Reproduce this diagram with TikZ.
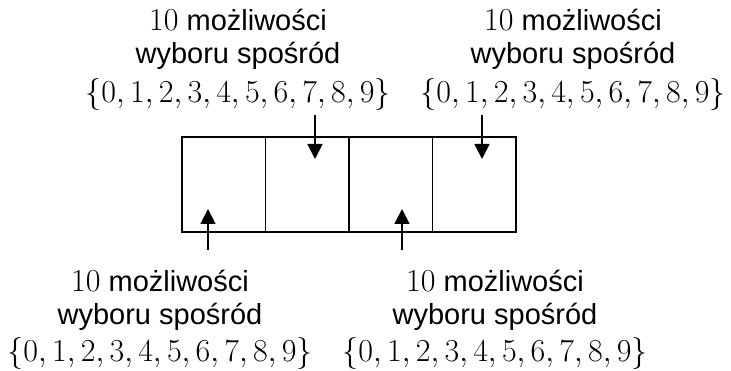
\documentclass[tikz,border=0pt]{standalone}
\usepackage{fix-cm}
\usepackage[no-math]{fontspec}
\setmainfont{Liberation Sans}
\usetikzlibrary{arrows.meta,positioning}

\newcommand\setsize{\fontsize{32}{36}\selectfont}

\begin{document}
\begin{tikzpicture}[
  x=1pt, y=-1pt,
  font=\fontsize{29}{33}\selectfont,
  >={Triangle[length=15pt,width=15pt]},
  cell/.style={draw, line width=1.8pt, minimum width=83.5pt, minimum height=95pt, inner sep=0pt, outer sep=0pt},
  choice/.style={align=center, inner sep=0pt},
  arrow/.style={->, line width=1.8pt}
]
\useasboundingbox (0,0) rectangle (731,371);

% Cells
\node[cell] (c1) at (223.75,184.5) {};
\node[cell, right=0pt of c1] (c2) {};
\node[cell, right=0pt of c2] (c3) {};
\node[cell, right=0pt of c3] (c4) {};

% Labels above
\node[choice, anchor=north] (t1) at (238,9) {{\setsize$10$} możliwości\\wyboru spośród\\[6pt]{\setsize$\{0, 1, 2, 3, 4, 5, 6, 7, 8, 9\}$}};
\node[choice, anchor=north] (t2) at (573,9) {{\setsize$10$} możliwości\\wyboru spośród\\[6pt]{\setsize$\{0, 1, 2, 3, 4, 5, 6, 7, 8, 9\}$}};

% Labels below
\node[choice, anchor=south] (b1) at (160,370) {{\setsize$10$} możliwości\\wyboru spośród\\[4pt]{\setsize$\{0, 1, 2, 3, 4, 5, 6, 7, 8, 9\}$}};
\node[choice, anchor=south] (b2) at (495,370) {{\setsize$10$} możliwości\\wyboru spośród\\[4pt]{\setsize$\{0, 1, 2, 3, 4, 5, 6, 7, 8, 9\}$}};

% Arrow tips
\coordinate (p1) at (208,209);
\coordinate (p2) at (315,159);
\coordinate (p3) at (402,209);
\coordinate (p4) at (482,159);

\draw[arrow, shorten <=4pt] (t1.south -| p2) -- (p2);
\draw[arrow, shorten <=4pt] (t2.south -| p4) -- (p4);
\draw[arrow, shorten <=20pt] (b1.north -| p1) -- (p1);
\draw[arrow, shorten <=20pt] (b2.north -| p3) -- (p3);

\end{tikzpicture}
\end{document}
